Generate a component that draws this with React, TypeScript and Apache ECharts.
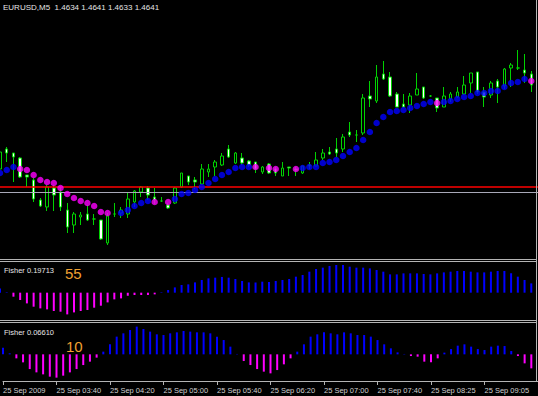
import React, { useEffect, useRef } from "react";
import * as echarts from "echarts";

// ---- Price data (EURUSD M5), one entry per bar ----
const openPrices = [
  1.45955, 1.46055, 1.46035, 1.4601, 1.45925, 1.459, 1.458, 1.45765, 1.4586, 1.4584,
  1.4575, 1.45675, 1.45715, 1.4573, 1.45705, 1.457, 1.45585, 1.4573, 1.45735, 1.4573,
  1.4579, 1.4584, 1.4586, 1.45815, 1.45795, 1.45775, 1.45785, 1.45865, 1.4592, 1.459,
  1.4588, 1.4594, 1.45965, 1.45975, 1.46055, 1.45985, 1.4601, 1.45995, 1.4599, 1.4594,
  1.4598, 1.45955, 1.4592, 1.45965, 1.45955, 1.45935, 1.45975, 1.4597, 1.4601, 1.4604,
  1.46055, 1.46055, 1.4614, 1.46125, 1.46135, 1.4632, 1.46295, 1.4643, 1.46415, 1.4633,
  1.4628, 1.46275, 1.46325, 1.46365, 1.4632, 1.4631, 1.46265, 1.46305, 1.46315, 1.4633,
  1.46385, 1.4644, 1.4634, 1.46325, 1.46395, 1.4637, 1.4646, 1.4646, 1.4645, 1.4643,
];
const closePrices = [
  1.4604, 1.46035, 1.46015, 1.45915, 1.45915, 1.45805, 1.4577, 1.45865, 1.45825, 1.45765,
  1.45665, 1.4573, 1.45725, 1.457, 1.45705, 1.45605, 1.4572, 1.4573, 1.4575, 1.45805,
  1.45845, 1.45865, 1.45825, 1.458, 1.45795, 1.4576, 1.4586, 1.45935, 1.4589, 1.4589,
  1.45955, 1.45955, 1.4599, 1.4602, 1.46015, 1.46035, 1.45985, 1.45975, 1.45955, 1.45965,
  1.45935, 1.45935, 1.4596, 1.4596, 1.4595, 1.4597, 1.4597, 1.46, 1.46035, 1.4603,
  1.46035, 1.46115, 1.46125, 1.46125, 1.4631, 1.46305, 1.46415, 1.46405, 1.4632, 1.46265,
  1.46265, 1.4632, 1.46355, 1.4631, 1.4632, 1.4626, 1.4632, 1.4633, 1.4634, 1.46375,
  1.46435, 1.4634, 1.46315, 1.46385, 1.46365, 1.46455, 1.46475, 1.4646, 1.46435, 1.46375,
];
const lowPrices = [
  1.45945, 1.4599, 1.4589, 1.4591, 1.45865, 1.4579, 1.45765, 1.45745, 1.45745, 1.45745,
  1.45635, 1.45635, 1.45675, 1.45695, 1.45675, 1.456, 1.45575, 1.45715, 1.4571, 1.4571,
  1.45765, 1.45815, 1.458, 1.4578, 1.4579, 1.45755, 1.4578, 1.4586, 1.45875, 1.45855,
  1.45875, 1.45915, 1.4592, 1.4597, 1.4601, 1.4598, 1.45975, 1.45965, 1.45935, 1.4593,
  1.4593, 1.4592, 1.4592, 1.4592, 1.4592, 1.4593, 1.45955, 1.4597, 1.46, 1.46025,
  1.46015, 1.4604, 1.46115, 1.4609, 1.46125, 1.46265, 1.46285, 1.464, 1.46315, 1.46265,
  1.4626, 1.46235, 1.46325, 1.46305, 1.46315, 1.4624, 1.46265, 1.4629, 1.4631, 1.46325,
  1.46335, 1.4633, 1.46265, 1.4631, 1.46285, 1.46355, 1.46365, 1.4645, 1.46385, 1.4634,
];
const highPrices = [
  1.46115, 1.46065, 1.46035, 1.46015, 1.45925, 1.4591, 1.4581, 1.45875, 1.45875, 1.45865,
  1.45785, 1.4574, 1.4574, 1.45775, 1.4573, 1.457, 1.45735, 1.45785, 1.45765, 1.4584,
  1.4585, 1.4587, 1.4587, 1.4586, 1.45815, 1.45785, 1.45865, 1.45935, 1.4592, 1.45915,
  1.4598, 1.4598, 1.46, 1.46035, 1.46075, 1.4604, 1.46035, 1.46, 1.4599, 1.4597,
  1.45985, 1.45965, 1.4599, 1.45965, 1.45965, 1.4597, 1.4599, 1.4604, 1.46055, 1.46065,
  1.4611, 1.4613, 1.4619, 1.4615, 1.4633, 1.46395, 1.46475, 1.46495, 1.4644, 1.4634,
  1.4633, 1.46335, 1.46435, 1.46365, 1.46325, 1.4631, 1.46365, 1.4634, 1.46365, 1.4642,
  1.46435, 1.4644, 1.46365, 1.46395, 1.46405, 1.4646, 1.46485, 1.4655, 1.4653, 1.46445,
];

// trend dots (value, direction: 1 = up/blue, -1 = down/magenta, 0 = none)
const trendLine = [
  1.45935, 1.4595, 1.45965, 1.45955, 1.4595, 1.45925, 1.459, 1.4589, 1.45885, 1.4586,
  1.4583, 1.4581, 1.45795, 1.45785, 1.4577, 1.4574, 1.45735, null, 1.45735, 1.4575,
  1.4577, 1.45785, 1.45795, 1.4579, null, 1.4579, 1.45805, 1.4583, 1.45835, 1.4585,
  1.45865, 1.45885, 1.45905, 1.45925, 1.4594, 1.4596, 1.45965, 1.45965, 1.45965, null,
  1.4596, 1.45955, null, null, 1.45955, 1.4596, 1.45965, 1.45965, 1.45985, 1.4599,
  1.46, 1.4602, 1.4604, 1.4606, 1.461, 1.4614, 1.46185, 1.46215, 1.4624, 1.46245,
  1.4625, 1.4626, 1.4627, 1.4628, 1.4629, 1.46285, 1.4629, 1.46295, 1.46305, 1.46315,
  1.4632, 1.46335, 1.46335, 1.46345, 1.46345, 1.46365, 1.46385, 1.4639, 1.46405, 1.46395,
];
const trendDir = [
  1, 1, 1, -1, -1, -1, -1, -1, -1, -1,
  -1, -1, -1, -1, -1, -1, -1, 0, 1, 1,
  1, 1, 1, -1, 0, -1, 1, 1, 1, 1,
  1, 1, 1, 1, 1, 1, 1, 1, -1, 0,
  -1, -1, 0, 0, -1, 1, 1, 1, 1, 1,
  1, 1, 1, 1, 1, 1, 1, 1, 1, 1,
  1, 1, 1, 1, 1, -1, 1, 1, 1, 1,
  1, 1, 1, 1, 1, 1, 1, 1, 1, -1,
];

const redLevel = 1.45865;
const grayLevel = 1.4584;

// Fisher histograms
const fisher55 = [
  0.09, 0.01, -0.085, -0.155, -0.227, -0.297, -0.333, -0.354, -0.388, -0.403,
  -0.46, -0.418, -0.388, -0.367, -0.318, -0.276, -0.206, -0.142, -0.121, -0.064,
  -0.049, -0.049, -0.049, -0.036, 0.01, 0.057, 0.112, 0.163, 0.176, 0.218,
  0.269, 0.303, 0.318, 0.333, 0.318, 0.29, 0.248, 0.218, 0.218, 0.233,
  0.225, 0.248, 0.269, 0.29, 0.339, 0.375, 0.445, 0.502, 0.53, 0.566,
  0.587, 0.587, 0.551, 0.53, 0.53, 0.515, 0.481, 0.445, 0.388, 0.388,
  0.409, 0.409, 0.409, 0.396, 0.388, 0.409, 0.43, 0.445, 0.46, 0.46,
  0.445, 0.43, 0.43, 0.445, 0.46, 0.46, 0.409, 0.339, 0.269, 0.197,
];
const fisher10 = [
  0.142, 0.021, -0.085, -0.17, -0.312, -0.382, -0.424, -0.473, -0.494, -0.452,
  -0.382, -0.312, -0.227, -0.155, -0.07, 0.057, 0.212, 0.375, 0.445, 0.515,
  0.587, 0.536, 0.481, 0.424, 0.409, 0.445, 0.466, 0.494, 0.481, 0.466,
  0.466, 0.445, 0.375, 0.303, 0.163, 0.008, -0.142, -0.227, -0.312, -0.367,
  -0.403, -0.333, -0.212, -0.085, 0.057, 0.212, 0.375, 0.424, 0.466, 0.445,
  0.424, 0.466, 0.445, 0.409, 0.409, 0.375, 0.303, 0.212, 0.127, 0.042,
  0.008, -0.036, -0.049, -0.155, -0.17, -0.085, 0.036, 0.112, 0.184, 0.212,
  0.163, 0.112, 0.091, 0.163, 0.184, 0.176, 0.07, -0.036, -0.191, -0.297,
];

const headerText = "EURUSD,M5  1.4634 1.4641 1.4633 1.4641";
const fisher55Label = "Fisher 0.19713";
const fisher10Label = "Fisher 0.06610";
const period55 = "55";
const period10 = "10";
const dateLabel = "25 Sep 2009";
const datePrefix = "25 Sep ";

// bar times: M5 from 03:00, with one missing bar (08:00)
const barTimes: string[] = [];
{
  let m = 180;
  for (let i = 0; i < openPrices.length; i++) {
    if (m === 480) m += 5;
    const hh = String(Math.floor(m / 60)).padStart(2, "0");
    const mm = String(m % 60).padStart(2, "0");
    barTimes.push(hh + ":" + mm);
    m += 5;
  }
}
const categories = [...barTimes, ""];

const BLUE = "#0000ff";
const MAGENTA = "#ff00ff";
const GREEN = "#00d200";
const FONT = "Liberation Sans";

export default function App() {
  const ref = useRef<HTMLDivElement>(null);
  useEffect(() => {
    document.body.style.margin = "0";
    document.body.style.background = "#000";
    const chart = echarts.init(ref.current!, undefined, { renderer: "svg" });
    const candleData = openPrices.map((o, i) => [o, closePrices[i], lowPrices[i], highPrices[i]]);
    const upDots = trendLine.map((v, i) => (trendDir[i] === 1 ? v : null));
    const downDots = trendLine.map((v, i) => (trendDir[i] === -1 ? v : null));
    const histColor = (p: any) => (p.value >= 0 ? BLUE : MAGENTA);
    const tickEvery = (i: number) => i % 8 === 0 && i < barTimes.length;
    const sepLine = (y: number) => ({
      type: "line",
      shape: { x1: 0, y1: y, x2: 537, y2: y },
      style: { stroke: "#b4b4b4", lineWidth: 1 },
      z: 100,
    });
    const txt = (x: number, y: number, text: string, size: number, color: string) => ({
      type: "text",
      x,
      y,
      style: {
        text,
        fill: color,
        fontSize: size,
        fontFamily: FONT,
        verticalAlign: "middle",
        align: "left",
      },
      z: 101,
    });
    chart.setOption({
      animation: false,
      backgroundColor: "#000",
      grid: [
        { left: 0, right: 0, top: 0, height: 258 },
        { left: 0, right: 0, top: 262, height: 58 },
        { left: 0, right: 0, top: 323, height: 58 },
      ],
      xAxis: [0, 1, 2].map((g) => ({
        type: "category",
        gridIndex: g,
        data: categories,
        boundaryGap: false,
        show: g === 2,
        axisLine: { show: true, onZero: false, lineStyle: { color: "#b4b4b4", width: 1 } },
        axisTick: {
          show: true,
          interval: (i: number) => tickEvery(i),
          length: 4,
          lineStyle: { color: "#b4b4b4" },
        },
        axisLabel: {
          show: true,
          interval: (i: number) => tickEvery(i),
          formatter: (v: string, i: number) => (i === 0 ? dateLabel : datePrefix + v),
          align: "left",
          margin: 5,
          fontSize: 7.5,
          fontFamily: FONT,
          color: "#d0d0d0",
        },
        splitLine: { show: false },
      })),
      yAxis: [
        { type: "value", gridIndex: 0, min: 1.4551, max: 1.468, show: false, splitLine: { show: false } },
        { type: "value", gridIndex: 1, min: -0.579, max: 0.65, show: false, splitLine: { show: false } },
        { type: "value", gridIndex: 2, min: -0.565, max: 0.664, show: false, splitLine: { show: false } },
      ],
      series: [
        {
          type: "candlestick",
          xAxisIndex: 0,
          yAxisIndex: 0,
          data: candleData,
          barWidth: 3,
          itemStyle: {
            color: "#000",
            color0: "#fff",
            borderColor: GREEN,
            borderColor0: GREEN,
            borderWidth: 1,
          },
          markLine: {
            silent: true,
            precision: 5,
            symbol: ["none", "none"],
            label: { show: false },
            data: [
              { yAxis: redLevel, lineStyle: { color: "#ff0000", width: 1.5, type: "solid" } },
              { yAxis: grayLevel, lineStyle: { color: "#a8a8b8", width: 1, type: "solid" } },
            ],
          },
          z: 2,
        },
        {
          type: "scatter",
          xAxisIndex: 0,
          yAxisIndex: 0,
          data: upDots,
          symbol: "circle",
          symbolSize: 6.5,
          itemStyle: { color: BLUE },
          z: 5,
        },
        {
          type: "scatter",
          xAxisIndex: 0,
          yAxisIndex: 0,
          data: downDots,
          symbol: "circle",
          symbolSize: 6.5,
          itemStyle: { color: MAGENTA },
          z: 5,
        },
        {
          type: "bar",
          xAxisIndex: 1,
          yAxisIndex: 1,
          data: fisher55,
          barWidth: 2,
          itemStyle: { color: histColor },
        },
        {
          type: "bar",
          xAxisIndex: 2,
          yAxisIndex: 2,
          data: fisher10,
          barWidth: 2,
          itemStyle: { color: histColor },
        },
      ],
      graphic: [
        sepLine(259.5),
        sepLine(261.5),
        sepLine(320.5),
        sepLine(322.5),
        {
          type: "line",
          shape: { x1: 536.5, y1: 0, x2: 536.5, y2: 381 },
          style: { stroke: "#b4b4b4", lineWidth: 1 },
          z: 100,
        },
        txt(3, 7, headerText, 8, "#e6e6e6"),
        txt(4, 270, fisher55Label, 7.5, "#e6e6e6"),
        txt(65, 273.5, period55, 15, "#f0a030"),
        txt(4, 332, fisher10Label, 7.5, "#e6e6e6"),
        txt(66, 346, period10, 15, "#f0a030"),
      ],
    });
    return () => chart.dispose();
  }, []);
  return <div ref={ref} style={{ width: 538, height: 396, background: "#000" }} />;
}
